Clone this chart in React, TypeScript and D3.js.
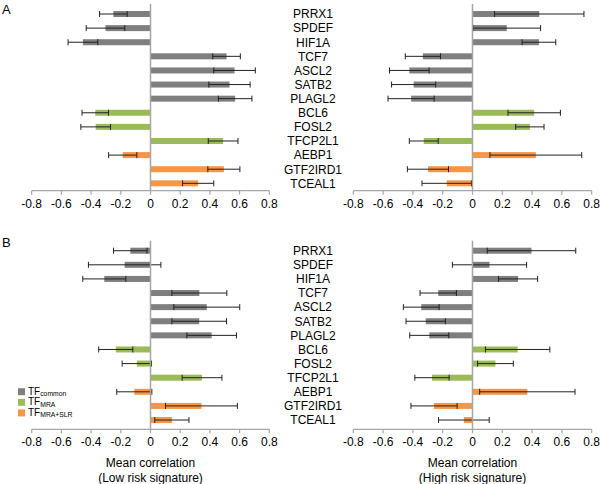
import React from 'react';
import * as d3 from 'd3';

// genes, top to bottom
const genes = ['PRRX1', 'SPDEF', 'HIF1A', 'TCF7', 'ASCL2', 'SATB2', 'PLAGL2', 'BCL6', 'FOSL2', 'TFCP2L1', 'AEBP1', 'GTF2IRD1', 'TCEAL1'];
const geneGroup = ['common', 'common', 'common', 'common', 'common', 'common', 'common', 'MRA', 'MRA', 'MRA', 'MRASLR', 'MRASLR', 'MRASLR'];

// mean correlation and error (half width) per panel
const aLowMean = [-0.25, -0.303, -0.455, 0.512, 0.566, 0.532, 0.57, -0.372, -0.369, 0.489, -0.187, 0.494, 0.321];
const aLowErr = [0.093, 0.13, 0.1, 0.093, 0.14, 0.139, 0.113, 0.089, 0.1, 0.1, 0.095, 0.108, 0.105];
const aHighMean = [0.448, 0.23, 0.446, -0.333, -0.424, -0.395, -0.412, 0.414, 0.385, -0.327, 0.425, -0.299, -0.173];
const aHighErr = [0.3, 0.227, 0.113, 0.118, 0.133, 0.148, 0.155, 0.176, 0.095, 0.097, 0.308, 0.138, 0.166];
const bLowMean = [-0.136, -0.174, -0.311, 0.329, 0.379, 0.328, 0.412, -0.234, -0.092, 0.347, -0.109, 0.343, 0.144];
const bLowErr = [0.113, 0.244, 0.145, 0.185, 0.222, 0.184, 0.167, 0.115, 0.099, 0.134, 0.118, 0.242, 0.115];
const bHighMean = [0.396, 0.114, 0.306, -0.23, -0.344, -0.314, -0.29, 0.303, 0.154, -0.272, 0.368, -0.258, -0.058];
const bHighErr = [0.297, 0.249, 0.131, 0.122, 0.12, 0.132, 0.131, 0.216, 0.12, 0.115, 0.32, 0.155, 0.17];

const xTicks = [-0.8, -0.6, -0.4, -0.2, 0, 0.2, 0.4, 0.6, 0.8];
const tickLabel = (v: number) => (v === 0 ? '0' : String(v));

const colors: Record<string, string> = { common: '#7f7f7f', MRA: '#9bbb59', MRASLR: '#f79646' };
const FONT = '"Liberation Sans", Arial, Helvetica, sans-serif';
const AXIS = '#a6a6a6';

interface PanelProps {
  mean: number[];
  err: number[];
  x0: number;
  x1: number;
  yTop: number;
  axisY: number;
  title?: string[];
}

const Panel: React.FC<PanelProps> = ({ mean, err, x0, x1, yTop, axisY, title }) => {
  const x = d3.scaleLinear().domain([-0.8, 0.8]).range([x0, x1]);
  const y = d3.scalePoint<string>().domain(genes).range([yTop, yTop + 12 * 14.11]);
  const barH = 6;
  const capH = 6;
  return (
    <g>
      {genes.map((g, i) => {
        const v = mean[i];
        const cy = y(g) as number;
        const lo = x(v - err[i]);
        const hi = x(v + err[i]);
        return (
          <g key={g}>
            <rect
              x={Math.min(x(0), x(v))}
              y={cy - barH / 2}
              width={Math.abs(x(v) - x(0))}
              height={barH}
              fill={colors[geneGroup[i]]}
            />
            <line x1={lo} x2={hi} y1={cy} y2={cy} stroke="#222" strokeWidth={1} />
            <line x1={lo} x2={lo} y1={cy - capH / 2} y2={cy + capH / 2} stroke="#222" strokeWidth={1} />
            <line x1={hi} x2={hi} y1={cy - capH / 2} y2={cy + capH / 2} stroke="#222" strokeWidth={1} />
          </g>
        );
      })}
      {/* zero line */}
      <line x1={x(0)} x2={x(0)} y1={yTop - 10} y2={axisY} stroke={AXIS} strokeWidth={1.5} />
      {/* x axis */}
      <line x1={x0} x2={x1} y1={axisY} y2={axisY} stroke={AXIS} strokeWidth={1.2} />
      {xTicks.map(t => (
        <g key={t}>
          <line x1={x(t)} x2={x(t)} y1={axisY} y2={axisY + 4} stroke={AXIS} strokeWidth={1.2} />
          <text x={x(t)} y={axisY + 17} textAnchor="middle" fontSize={12} fill="#000">
            {tickLabel(t)}
          </text>
        </g>
      ))}
      {title && (
        <text x={x(0)} y={axisY + 38} textAnchor="middle" fontSize={12} fill="#000">
          <tspan x={x(0)}>{title[0]}</tspan>
          <tspan x={x(0)} dy={14.5}>{title[1]}</tspan>
        </text>
      )}
    </g>
  );
};

const GeneLabels: React.FC<{ yTop: number }> = ({ yTop }) => {
  const y = d3.scalePoint<string>().domain(genes).range([yTop, yTop + 12 * 14.11]);
  return (
    <g>
      {genes.map(g => (
        <text key={g} x={313} y={(y(g) as number) + 4.3} textAnchor="middle" fontSize={12} fill="#000">
          {g}
        </text>
      ))}
    </g>
  );
};

const legendItems = [
  { key: 'common', sub: 'common' },
  { key: 'MRA', sub: 'MRA' },
  { key: 'MRASLR', sub: 'MRA+SLR' },
];

const App: React.FC = () => {
  return (
    <svg
      width={600}
      height={484}
      style={{ position: 'absolute', left: 0, top: 0, background: '#fff' }}
      fontFamily={FONT}
    >
      <text x={2} y={14} fontSize={13} fill="#000">A</text>
      <text x={2} y={247} fontSize={13} fill="#000">B</text>

      <Panel mean={aLowMean} err={aLowErr} x0={31.7} x1={269.3} yTop={14} axisY={190.7} />
      <Panel mean={aHighMean} err={aHighErr} x0={353.3} x1={591.7} yTop={14} axisY={190.7} />
      <GeneLabels yTop={14} />

      <Panel mean={bLowMean} err={bLowErr} x0={31.7} x1={269.3} yTop={250.7} axisY={429.3}
        title={['Mean correlation', '(Low risk signature)']} />
      <Panel mean={bHighMean} err={bHighErr} x0={353.3} x1={591.7} yTop={250.7} axisY={429.3}
        title={['Mean correlation', '(High risk signature)']} />
      <GeneLabels yTop={250.7} />

      {legendItems.map((d, i) => (
        <g key={d.key} transform={`translate(18, ${391.7 + i * 10.6})`}>
          <rect x={0} y={-3.5} width={7} height={7} fill={colors[d.key]} />
          <text x={10} y={3} fontSize={10} fill="#000">
            TF<tspan fontSize={6.8} dy={1.3}>{d.sub}</tspan>
          </text>
        </g>
      ))}
    </svg>
  );
};

export default App;
